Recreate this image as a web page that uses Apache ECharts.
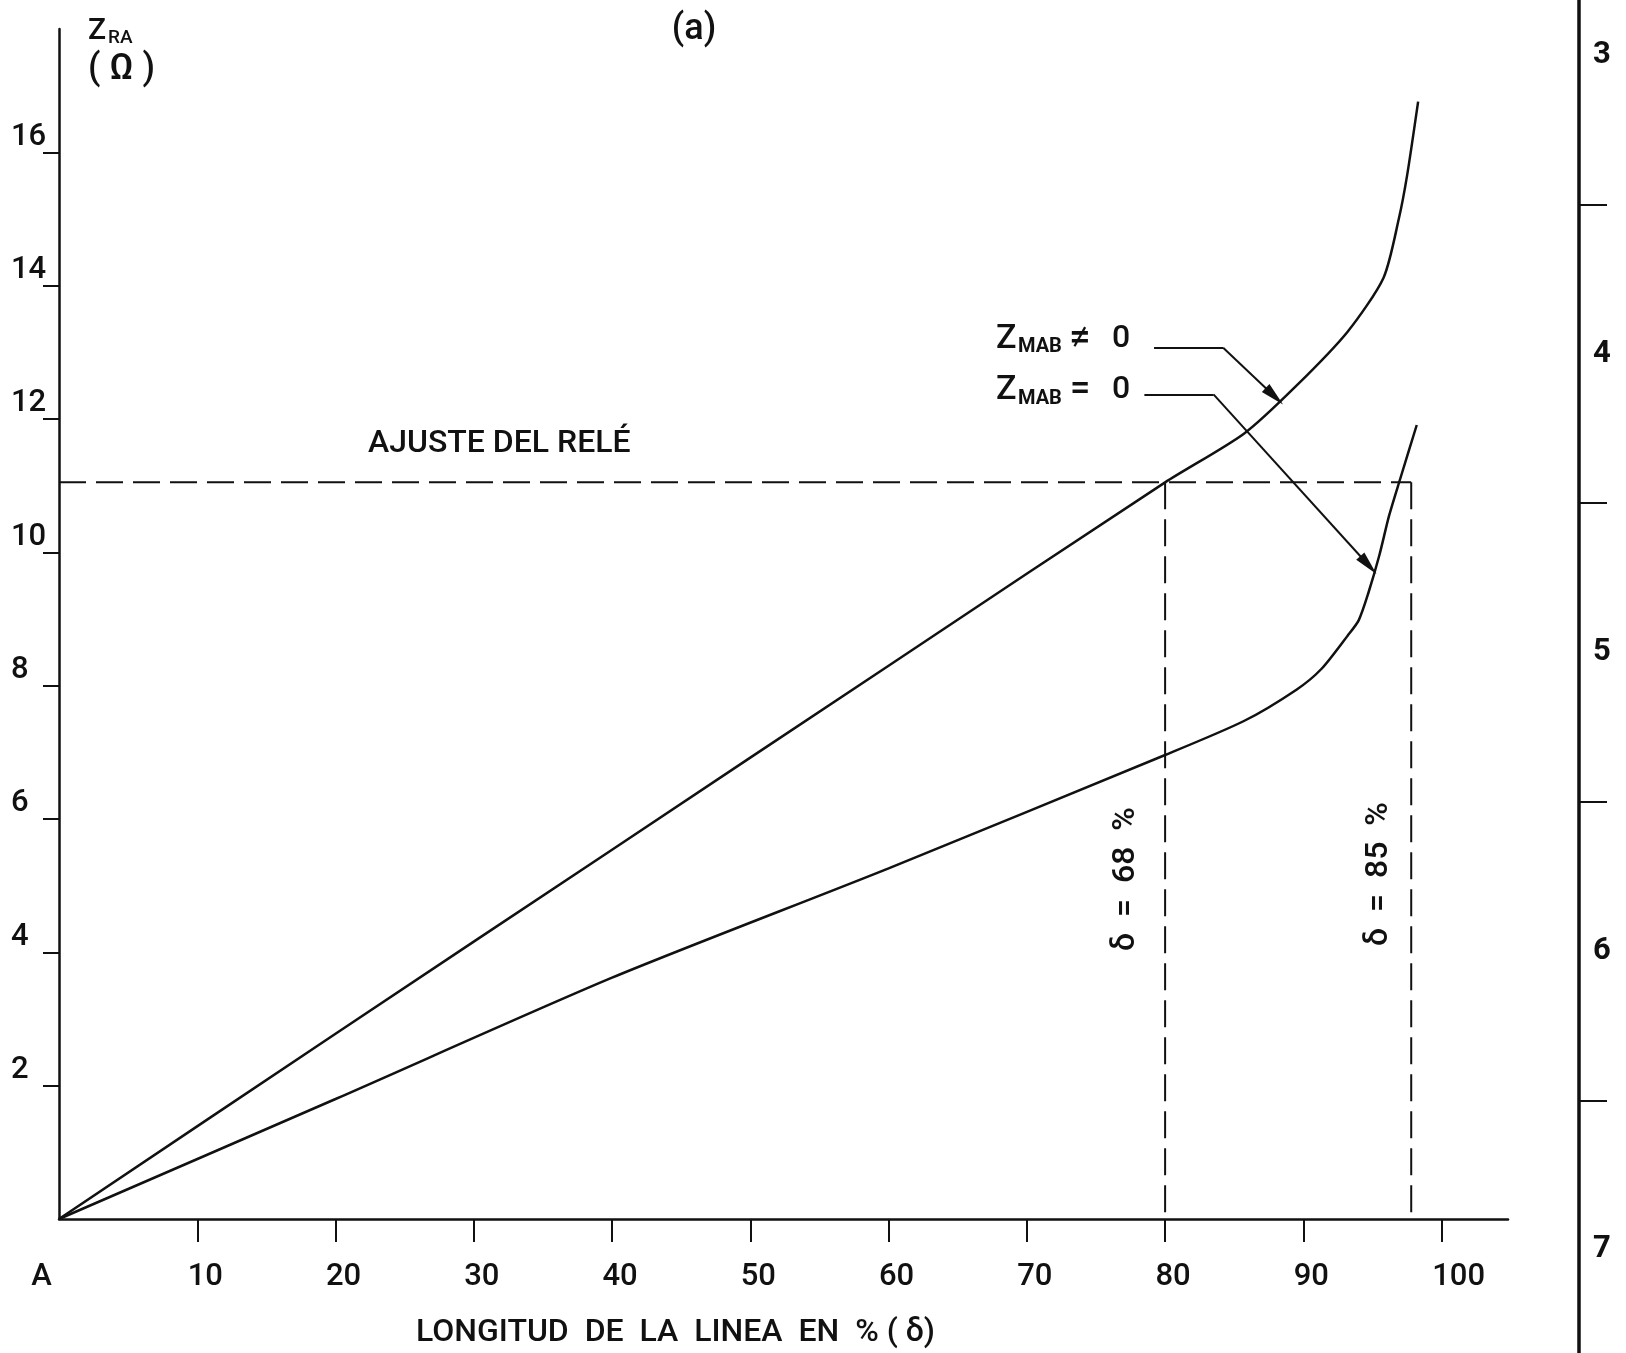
<!DOCTYPE html>
<html><head><meta charset="utf-8">
<script src="https://cdn.jsdelivr.net/npm/echarts@6/dist/echarts.min.js"></script>
<style>html,body{margin:0;padding:0;background:#fff}#c{width:1626px;height:1353px}</style>
</head><body><div id="c"></div>
<script>
// ---- data ----
const xTickValues = [10, 20, 30, 40, 50, 60, 70, 80, 90, 100];
const xLabelValues = [0, 10, 20, 30, 40, 50, 60, 70, 80, 90, 100];
const yTickValues = [2, 4, 6, 8, 10, 12, 14, 16];
const rightScaleLabels = ['3', '4', '5', '6', '7'];
// Z_MAB != 0
const zmabNonZero = [[0,0],[20,2.78],[40,5.54],[60,8.3],[80,11.05],[85.7,11.78],[89.5,12.5],[93.2,13.31],[95.8,14.12],[96.9,15.0],[97.5,15.65],[98.3,16.76]];
// Z_MAB = 0
const zmabZero = [[0,0],[20,1.8],[40,3.62],[60,5.26],[80,6.96],[85.7,7.47],[89.5,7.94],[91.3,8.25],[93.2,8.75],[94.0,8.98],[94.7,9.39],[95.5,9.96],[96.2,10.55],[97.0,11.1],[98.2,11.91]];
const relaySetting = 11.05;
const reachPoints = [80, 97.8];
const reachLabels = ['δ  =  68  %', 'δ  =  85  %'];
const leaderNonZero = [[79.2,13.07],[84.2,13.07],[87.9,12.34]];
const leaderZero = [[78.5,12.37],[83.5,12.37],[94.7,9.81]];

const FONT = 'Roboto, "Liberation Sans", Arial, sans-serif';
const W = 500;
const INK = '#111';
const FS = 32;
const TFS = 31;

const chart = echarts.init(document.getElementById('c'), null, {renderer: 'canvas'});

function leaderData(pts) {
  return [
    [{coord: pts[0], symbol: 'none'}, {coord: pts[1], symbol: 'none'}],
    [{coord: pts[1], symbol: 'none'}, {coord: pts[2], symbol: 'triangle', symbolSize: [11, 24]}]
  ];
}

const dashed = {color: INK, width: 2, type: [27, 10]};
function txt(x, y, text, size, extra) {
  return {type: 'text', x: x, y: y, silent: true,
    style: Object.assign({text: text, fontSize: size, fontFamily: FONT, fontWeight: W, fill: INK, verticalAlign: 'middle'}, extra || {})};
}
const lbl = {fontSize: TFS, fontFamily: FONT, fontWeight: W, color: INK};

const option = {
  backgroundColor: '#fff',
  animation: false,
  textStyle: {fontFamily: FONT, color: INK, fontWeight: W},
  grid: [
    {left: 59, top: 29, right: 118, bottom: 134, outerBoundsMode: 'none'},
    {left: 1579, top: -94, width: 10, height: 1493, outerBoundsMode: 'none'}
  ],
  xAxis: [
    {
      type: 'value', gridIndex: 0, min: 0, max: 104.8,
      axisLine: {show: true, lineStyle: {color: INK, width: 2.5}},
      axisTick: {show: true, customValues: xTickValues, length: 23, lineStyle: {color: INK, width: 2}},
      splitLine: {show: false},
      axisLabel: Object.assign({
        customValues: xLabelValues, margin: 43,
        formatter: function (v) {
          if (v === 0) return '{a|A}';
          if (v === 100) return '{c|100}';
          return '{b|' + v + '}';
        },
        rich: {
          a: Object.assign({padding: [0, 35, 0, 0]}, lbl),
          b: Object.assign({padding: [0, 0, 0, 16]}, lbl),
          c: Object.assign({padding: [0, 0, 0, 34]}, lbl)
        }
      }, lbl),
      name: 'LONGITUD  DE  LA  LINEA  EN  % ( δ)',
      nameLocation: 'middle', nameGap: 98,
      nameTextStyle: {fontSize: FS, fontFamily: FONT, fontWeight: W, color: INK, padding: [0, 216, 0, 0]}
    },
    {type: 'value', gridIndex: 1, show: false, min: 0, max: 1}
  ],
  yAxis: [
    {
      type: 'value', gridIndex: 0, min: 0, max: 17.85,
      axisLine: {show: true, lineStyle: {color: INK, width: 2.5}},
      axisTick: {show: true, customValues: yTickValues, length: 16, lineStyle: {color: INK, width: 2}},
      splitLine: {show: false},
      axisLabel: Object.assign({customValues: yTickValues, margin: 48, align: 'left', verticalAlign: 'bottom'}, lbl)
    },
    {
      type: 'category', gridIndex: 1, data: rightScaleLabels, inverse: true,
      axisLine: {show: true, lineStyle: {color: INK, width: 3.5}},
      axisTick: {show: true, inside: true, length: 28, lineStyle: {color: INK, width: 2}},
      axisLabel: Object.assign({inside: true, margin: 14}, lbl, {fontWeight: 'bold'}),
      splitLine: {show: false}
    }
  ],
  series: [
    {
      name: 'Z_MAB ≠ 0', type: 'line', xAxisIndex: 0, yAxisIndex: 0,
      data: zmabNonZero, smooth: 0.25, showSymbol: false, symbol: 'none',
      lineStyle: {color: INK, width: 2.5}, silent: true
    },
    {
      name: 'Z_MAB = 0', type: 'line', xAxisIndex: 0, yAxisIndex: 0,
      data: zmabZero, smooth: 0.25, showSymbol: false, symbol: 'none',
      lineStyle: {color: INK, width: 2.5}, silent: true
    },
    {
      name: 'ajuste', type: 'line', data: [[0, relaySetting], [reachPoints[1], relaySetting]],
      symbol: 'none', lineStyle: dashed, silent: true
    },
    ...reachPoints.map((p, i) => ({
      name: 'reach' + i, type: 'line', data: [[p, relaySetting], [p, 0]],
      symbol: 'none', lineStyle: dashed, silent: true
    })),
    {
      name: 'leaders', type: 'line', data: [], silent: true,
      markLine: {
        silent: true, animation: false,
        label: {show: false},
        lineStyle: {color: INK, width: 2, type: 'solid'},
        itemStyle: {color: INK},
        symbol: ['none', 'none'],
        data: leaderData(leaderNonZero).concat(leaderData(leaderZero))
      }
    }
  ],
  graphic: [
    txt(88, 31, 'Z', 30),
    txt(108, 38, 'RA', 19),
    txt(88, 70, '( Ω )', 36),
    txt(694, 30, '(a)', 36, {align: 'center'}),
    txt(368, 444, 'AJUSTE DEL RELÉ', FS),

    txt(996, 339, 'Z', 34),
    txt(1018, 347, 'MAB', 20, {fontWeight: 'bold'}),
    txt(1069, 339, '≠', 38),
    txt(1112, 339, '0', FS),

    txt(996, 390, 'Z', 34),
    txt(1018, 399, 'MAB', 20, {fontWeight: 'bold'}),
    txt(1070, 390, '=', 36),
    txt(1112, 390, '0', FS),

    Object.assign(txt(1126, 879, reachLabels[0], FS, {align: 'center'}), {rotation: Math.PI / 2}),
    Object.assign(txt(1379, 874, reachLabels[1], FS, {align: 'center'}), {rotation: Math.PI / 2})
  ]
};
chart.setOption(option);
</script>
</body></html>
